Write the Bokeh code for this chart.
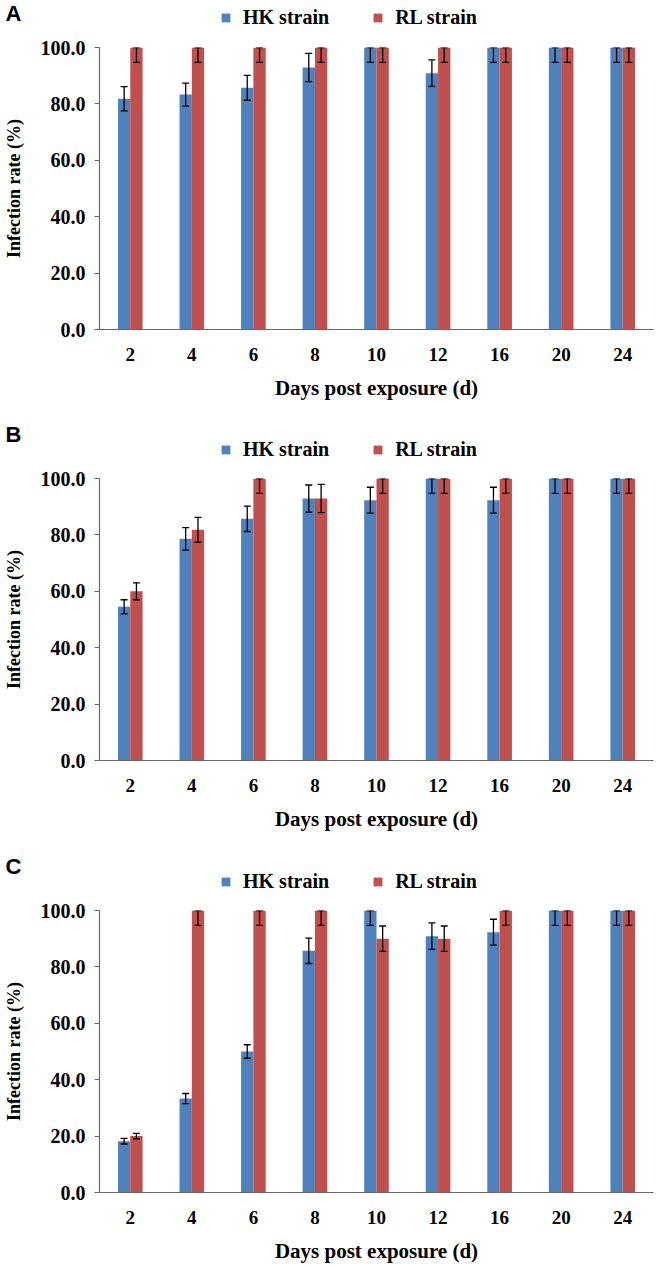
from bokeh.plotting import figure
from bokeh.layouts import column
from bokeh.models import (ColumnDataSource, FactorRange, Range1d, FixedTicker,
                          NumeralTickFormatter, Legend, LegendItem,
                          Whisker, TeeHead)
from bokeh.transform import dodge
from bokeh.embed import file_html
from bokeh.resources import INLINE

days = ["2", "4", "6", "8", "10", "12", "16", "20", "24"]
y_ticks = [0, 20, 40, 60, 80, 100]

# Panel A
A_hk = [81.8, 83.3, 85.7, 92.9, 100, 90.9, 100, 100, 100]
A_hk_err = [4.3, 4.1, 4.4, 5.0, 5.3, 4.7, 5.3, 5.3, 5.3]
A_rl = [100, 100, 100, 100, 100, 100, 100, 100, 100]
A_rl_err = [5.3, 5.3, 5.3, 5.3, 5.3, 5.3, 5.3, 5.3, 5.3]

# Panel B
B_hk = [54.5, 78.6, 85.7, 92.9, 92.3, 100, 92.3, 100, 100]
B_hk_err = [2.5, 4.0, 4.5, 4.8, 4.6, 5.3, 4.6, 5.3, 5.3]
B_rl = [60.0, 81.8, 100, 92.9, 100, 100, 100, 100, 100]
B_rl_err = [3.0, 4.4, 5.3, 5.0, 5.3, 5.3, 5.3, 5.3, 5.3]

# Panel C
C_hk = [18.2, 33.3, 50.0, 85.7, 100, 90.9, 92.3, 100, 100]
C_hk_err = [1.0, 1.8, 2.4, 4.5, 5.3, 4.7, 4.6, 5.3, 5.3]
C_rl = [20.0, 100, 100, 100, 90.0, 90.0, 100, 100, 100]
C_rl_err = [1.0, 5.3, 5.3, 5.3, 4.5, 4.5, 5.3, 5.3, 5.3]

series_names = ["HK strain", "RL strain"]

BLUE = "#4F81BD"
RED = "#C0504D"
SERIF = "Liberation Serif"
SANS = "Liberation Sans"
AXIS_COLOR = "#666666"
FRAME_W = 554
LEFT = 95
RIGHT = 2


def make_panel(letter, hk, hk_err, rl, rl_err, head_h, legend_c, top, bottom,
               legend_adj=15.5):
    src = ColumnDataSource(dict(
        day=days, hk=hk, rl=rl,
        hk_up=[min(v + e, 100) for v, e in zip(hk, hk_err)],
        hk_lo=[v - e for v, e in zip(hk, hk_err)],
        rl_up=[min(v + e, 100) for v, e in zip(rl, rl_err)],
        rl_lo=[v - e for v, e in zip(rl, rl_err)],
    ))
    xr = FactorRange(factors=days)

    # ---- main chart ----
    p = figure(x_range=xr, y_range=Range1d(0, 100),
               frame_width=FRAME_W, frame_height=282,
               min_border_left=LEFT, min_border_right=RIGHT,
               min_border_top=top, min_border_bottom=bottom,
               output_backend="svg", toolbar_location=None, tools="")
    p.outline_line_color = None
    p.xgrid.grid_line_color = None
    p.ygrid.grid_line_color = None

    p.vbar(x=dodge("day", -0.1, range=xr), top="hk", width=0.2,
           source=src, fill_color=BLUE, line_color=None)
    p.vbar(x=dodge("day", 0.1, range=xr), top="rl", width=0.2,
           source=src, fill_color=RED, line_color=None)

    for off, up, lo in ((-0.1, "hk_up", "hk_lo"), (0.1, "rl_up", "rl_lo")):
        w = Whisker(base=dodge("day", off, range=xr), upper=up, lower=lo,
                    source=src, line_color="black", line_width=1.3,
                    level="overlay",
                    upper_head=TeeHead(size=7, line_color="black", line_width=1.3),
                    lower_head=TeeHead(size=7, line_color="black", line_width=1.3))
        p.add_layout(w)

    p.yaxis.ticker = FixedTicker(ticks=y_ticks)
    p.yaxis.formatter = NumeralTickFormatter(format="0.0")
    p.yaxis.axis_label = "Infection rate (%)"
    p.xaxis.axis_label = "Days post exposure (d)"
    for ax in (p.xaxis[0], p.yaxis[0]):
        ax.axis_line_color = AXIS_COLOR
        ax.axis_line_width = 1.2
        ax.major_tick_line_color = AXIS_COLOR
        ax.minor_tick_line_color = None
        ax.major_label_text_font = SERIF
        ax.major_label_text_font_style = "bold"
        ax.major_label_text_color = "black"
        ax.axis_label_text_font = SERIF
        ax.axis_label_text_font_style = "bold"
        ax.axis_label_text_color = "black"
    p.xaxis.major_tick_line_color = None
    p.xaxis.major_label_text_font_size = "19px"
    p.xaxis.major_label_standoff = 12
    p.xaxis.axis_label_text_font_size = "21px"
    p.xaxis.axis_label_standoff = 12
    p.yaxis.major_tick_in = 0
    p.yaxis.major_tick_out = 5
    p.yaxis.major_label_standoff = 9
    p.yaxis.major_label_text_font_size = "20px"
    p.yaxis.axis_label_text_font_size = "18px"
    p.yaxis.axis_label_standoff = 14

    # ---- header strip: panel letter + legend ----
    h = figure(x_range=xr, y_range=Range1d(0, 1), x_axis_type=None,
               frame_width=FRAME_W, frame_height=head_h,
               min_border_left=LEFT, min_border_right=RIGHT,
               min_border_top=0, min_border_bottom=0,
               output_backend="svg", toolbar_location=None, tools="")
    h.outline_line_color = None
    h.ygrid.grid_line_color = None
    g1 = h.vbar(x="day", top=0, bottom=0, width=0.2, source=src,
                fill_color=BLUE, line_color=None)
    g2 = h.vbar(x="day", top=0, bottom=0, width=0.2, source=src,
                fill_color=RED, line_color=None)
    ya = h.yaxis[0]
    ya.ticker = FixedTicker(ticks=[])
    ya.axis_line_color = None
    ya.major_tick_line_color = None
    ya.minor_tick_line_color = None
    ya.major_tick_out = 0
    ya.major_tick_in = 0
    ya.major_label_standoff = 0
    ya.axis_label = letter
    ya.axis_label_orientation = "horizontal"
    ya.axis_label_text_font = SANS
    ya.axis_label_text_font_style = "bold"
    ya.axis_label_text_font_size = "22px"
    ya.axis_label_text_color = "black"
    ya.axis_label_standoff = 78

    legend = Legend(items=[LegendItem(label=series_names[0], renderers=[g1]),
                           LegendItem(label=series_names[1], renderers=[g2])],
                    orientation="horizontal",
                    location=(121, head_h - legend_c - legend_adj),
                    padding=0, margin=0, spacing=43,
                    glyph_width=11, glyph_height=11, label_height=11,
                    label_standoff=12,
                    label_text_font=SERIF, label_text_font_style="bold",
                    label_text_font_size="20px", label_text_color="black",
                    border_line_color=None, background_fill_alpha=0)
    h.add_layout(legend)
    return h, p


hA, pA = make_panel("A", A_hk, A_hk_err, A_rl, A_rl_err, 26, 14.5, 21, 75,
                    legend_adj=14)
hB, pB = make_panel("B", B_hk, B_hk_err, B_rl, B_rl_err, 60, 41, 14, 75)
hC, pC = make_panel("C", C_hk, C_hk_err, C_rl, C_rl_err, 61, 42, 14, 57)

layout = column(hA, pA, hB, pB, hC, pC, spacing=0)
open("out.html", "w").write(file_html(layout, INLINE))
